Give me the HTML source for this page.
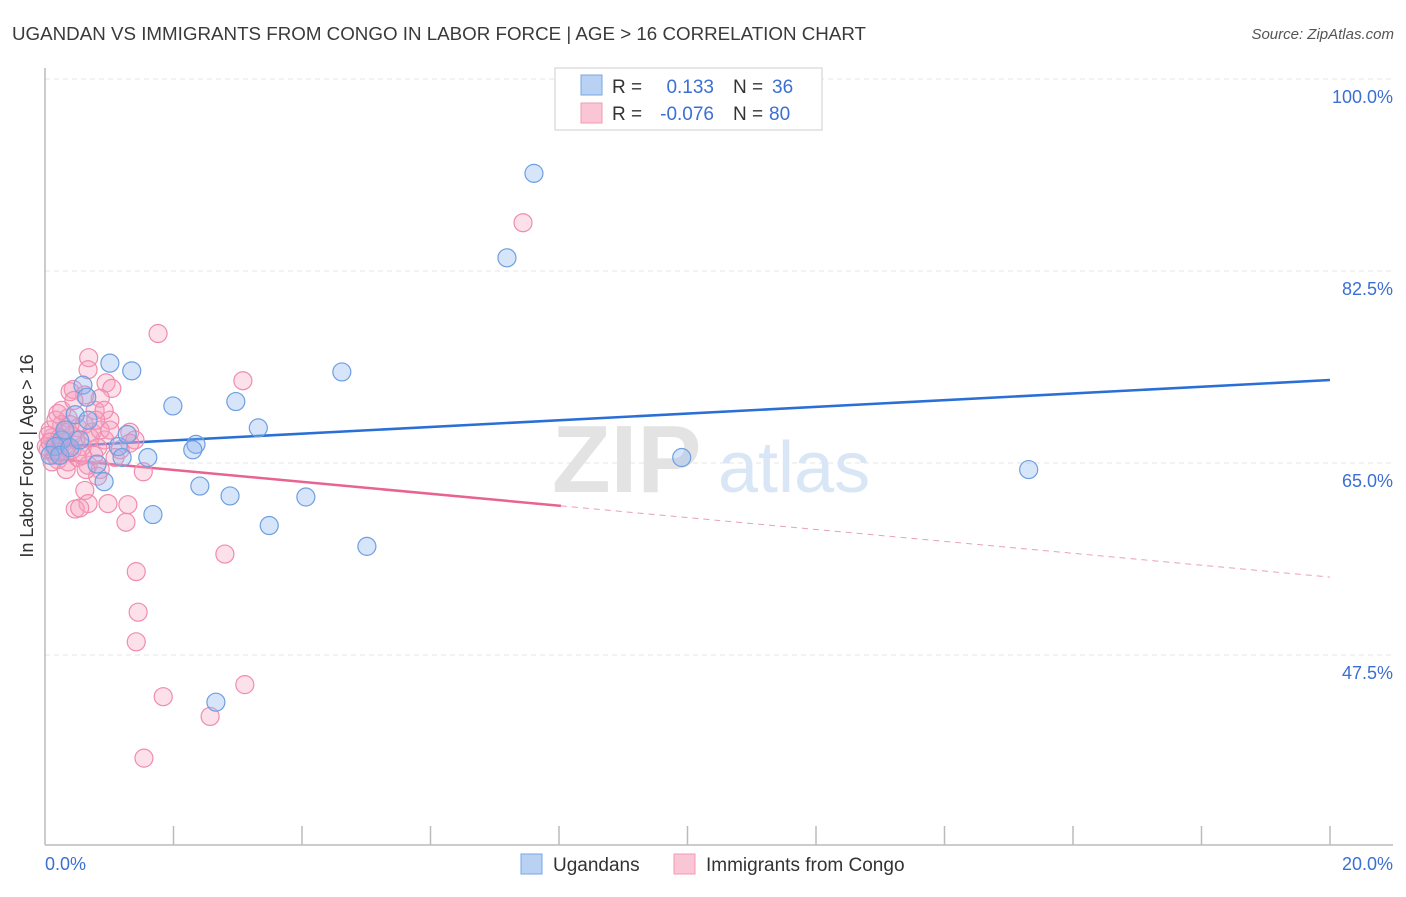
<!DOCTYPE html>
<html><head><meta charset="utf-8"><style>
body{margin:0;background:#fff;font-family:"Liberation Sans",sans-serif;}
svg text{font-family:"Liberation Sans",sans-serif;}
</style></head><body>
<svg id="chart" width="1406" height="892" viewBox="0 0 1406 892" xmlns="http://www.w3.org/2000/svg">
<text x="12" y="40" font-size="18" fill="#3a3a3a" textLength="854" lengthAdjust="spacingAndGlyphs">UGANDAN VS IMMIGRANTS FROM CONGO IN LABOR FORCE | AGE &gt; 16 CORRELATION CHART</text>
<text x="1394" y="39" font-size="15" font-style="italic" fill="#555" text-anchor="end">Source: ZipAtlas.com</text>
<g id="grid"></g>
<g>
<text x="552" y="492" font-size="96" font-family="Liberation Serif" fill="#e3e3e3" font-weight="bold">ZIP</text>
<text x="718" y="492" font-size="72" fill="#d8e6f6">atlas</text>
</g>
<line x1="45" y1="68" x2="45" y2="845" stroke="#bbb" stroke-width="1.5"/>
<line x1="45" y1="845" x2="1393" y2="845" stroke="#bbb" stroke-width="1.5"/>
<g id="xticks"></g>
<text transform="translate(33,456) rotate(-90)" font-size="18" fill="#333" text-anchor="middle">In Labor Force | Age &gt; 16</text>
<text x="45" y="870" font-size="18" fill="#3b6fd4">0.0%</text>
<text x="1393" y="870" font-size="18" fill="#3b6fd4" text-anchor="end">20.0%</text>
<g id="trends"></g>
<g id="pinkpts"></g>
<g id="bluepts"></g>
<g>
<rect x="555" y="68" width="267" height="62" fill="#fff" stroke="#ddd" stroke-width="1.5"/>
<rect x="581" y="75" width="21" height="20" fill="#b9d2f4" stroke="#7aa6e6"/>
<rect x="581" y="103" width="21" height="20" fill="#fac6d6" stroke="#f09ab6"/>
<text x="612" y="93" font-size="19" fill="#333">R = </text><text x="714" y="93" font-size="19" fill="#3b6fd4" text-anchor="end">0.133</text>
<text x="733" y="93" font-size="19" fill="#333">N = </text><text x="772" y="93" font-size="19" fill="#3b6fd4">36</text>
<text x="612" y="120" font-size="19" fill="#333">R = </text><text x="714" y="120" font-size="19" fill="#3b6fd4" text-anchor="end">-0.076</text>
<text x="733" y="120" font-size="19" fill="#333">N = </text><text x="769" y="120" font-size="19" fill="#3b6fd4">80</text>
</g>
<g>
<rect x="521" y="854" width="21" height="20" fill="#b9d2f4" stroke="#7aa6e6"/>
<text x="553" y="871" font-size="19" fill="#333">Ugandans</text>
<rect x="674" y="854" width="21" height="20" fill="#fac6d6" stroke="#f09ab6"/>
<text x="706" y="871" font-size="19" fill="#333">Immigrants from Congo</text>
</g>
</svg>
<script>
const yTicks=[100,82.5,65,47.5];
const yTickLabels=["100.0%","82.5%","65.0%","47.5%"];
const blueX=[7.61,7.19,1.01,1.35,0.59,0.65,1.99,2.97,0.47,3.32,4.62,2.35,2.30,1.14,1.60,0.81,0.92,2.41,2.88,4.06,1.68,3.49,5.01,9.91,15.31,2.66,1.28,1.20,0.26,0.16,0.08,0.31,0.67,0.23,0.39,0.54];
const blueY=[91.4,83.7,74.1,73.4,72.1,71.0,70.2,70.6,69.4,68.2,73.3,66.7,66.2,66.5,65.5,64.9,63.3,62.9,62.0,61.9,60.3,59.3,57.4,65.5,64.4,43.2,67.6,65.5,67.1,66.5,65.7,68.0,68.9,65.7,66.4,67.1];
const pinkX=[7.44,1.76,0.68,0.67,3.08,0.95,1.04,0.44,0.39,0.62,0.86,0.20,0.78,0.36,1.01,0.26,0.51,0.73,1.32,1.40,0.93,0.42,0.31,0.23,0.11,0.05,0.16,0.36,0.82,0.51,0.58,0.67,0.86,1.09,1.53,1.32,0.82,0.62,0.98,1.29,0.67,0.47,0.54,1.26,2.80,1.42,1.45,1.42,1.84,3.11,2.57,1.54,0.08,0.17,0.30,0.42,0.20,0.48,0.61,0.70,0.02,0.11,0.33,0.76,0.86,1.17,0.26,0.45,0.92,0.64,0.79,0.05,0.14,0.39,0.23,0.58,1.01,0.33,0.20,0.08];
const pinkY=[86.9,76.8,74.6,73.5,72.5,72.3,71.8,71.7,71.5,71.2,70.9,69.5,69.8,69.1,68.9,68.5,68.2,67.8,67.8,67.1,67.1,67.5,67.8,66.6,67.3,66.2,65.7,65.1,66.4,65.5,66.5,64.8,64.4,65.5,64.2,66.8,63.8,62.5,61.3,61.2,61.3,60.8,60.9,59.6,56.7,55.1,51.4,48.7,43.7,44.8,41.9,38.1,68.0,68.9,66.9,66.2,65.3,67.1,68.5,67.3,66.5,65.1,64.4,65.7,68.0,66.2,69.8,70.7,69.8,64.4,68.9,67.5,66.6,68.5,67.3,65.7,68.0,66.4,66.0,66.9];
const blueTrend=[66.45,72.56];
const pinkTrend=[65.45,54.6];
const pinkSolidEnd=8.03;

const NS="http://www.w3.org/2000/svg";
const X=v=>45+v/20*1285;
const Y=v=>79+(100-v)/17.5*192;
function mk(t,a,p){const e=document.createElementNS(NS,t);for(const k in a)e.setAttribute(k,a[k]);p.appendChild(e);return e;}
const grid=document.getElementById('grid');
yTicks.forEach((t,i)=>{
  const l=mk('line',{x1:45,x2:1393,y1:Y(t),y2:Y(t),stroke:'#e6e6e6','stroke-dasharray':'5,4'},grid);
  
  
  const tx=mk('text',{x:1393,y:Y(t)+24,'font-size':18,fill:'#3b6fd4','text-anchor':'end'},grid);
  tx.textContent=yTickLabels[i];
  
  
});
const xt=document.getElementById('xticks');
for(let i=1;i<=10;i++){
  const l=mk('line',{x1:X(i*2),x2:X(i*2),y1:826,y2:845,stroke:'#bbb','stroke-width':1.5},xt);
  
  
}
const tr=document.getElementById('trends');
const pAt=x=>pinkTrend[0]+(pinkTrend[1]-pinkTrend[0])*x/20;
let l1=mk('line',{x1:X(0),y1:Y(blueTrend[0]),x2:X(20),y2:Y(blueTrend[1]),stroke:'#2a6fd6','stroke-width':2.5},tr);


let l2=mk('line',{x1:X(0),y1:Y(pAt(0)),x2:X(pinkSolidEnd),y2:Y(pAt(pinkSolidEnd)),stroke:'#e8638f','stroke-width':2.5},tr);


let l3=mk('line',{x1:X(pinkSolidEnd),y1:Y(pAt(pinkSolidEnd)),x2:X(20),y2:Y(pAt(20)),stroke:'#e8a0b8','stroke-width':1,'stroke-dasharray':'6,5'},tr);


const pg=document.getElementById('pinkpts');
pinkX.forEach((x,i)=>{
  const c=mk('circle',{cx:X(x),cy:Y(pinkY[i]),r:9,fill:'rgba(245,160,190,0.33)',stroke:'#f08cae','stroke-width':1.2},pg);
  
  
});
const bg=document.getElementById('bluepts');
blueX.forEach((x,i)=>{
  const c=mk('circle',{cx:X(x),cy:Y(blueY[i]),r:9,fill:'rgba(140,180,240,0.35)',stroke:'#6e9fe0','stroke-width':1.2},bg);
  
  
});
</script>
</body></html>
